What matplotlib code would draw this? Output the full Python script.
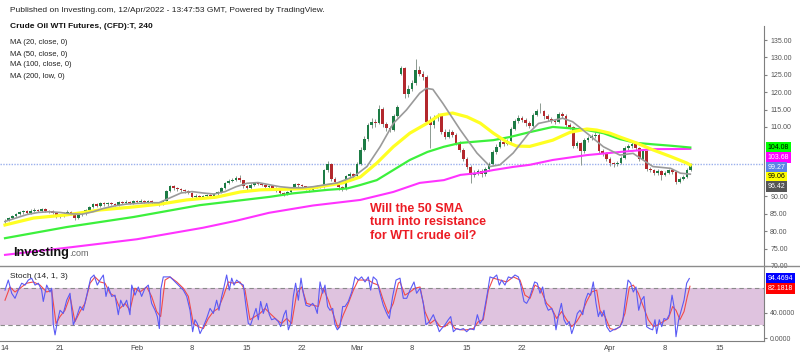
import numpy as np
import matplotlib
matplotlib.use("Agg")
import matplotlib.pyplot as plt
from matplotlib.lines import Line2D
from matplotlib.transforms import blended_transform_factory

plt.rcParams["font.family"] = ["Liberation Sans", "DejaVu Sans"]

# 8-hour candles, 3 per trading day; trading day 0 = Fri 14 Jan 2022
opens = [82.6, 83.0, 83.9, 84.4, 84.9, 85.4, 85.7, 85.2, 85.9, 86.1, 85.8, 86.3,
         85.9, 85.7, 85.3, 84.3, 84.4, 85.1, 85.6, 85.0, 83.8, 84.6, 85.0, 86.2,
         87.0, 87.7, 87.4, 88.0, 87.7, 88.1, 87.9, 87.6, 88.3, 88.0, 88.5, 88.2,
         88.6, 88.3, 88.8, 88.4, 88.7, 88.2, 87.9, 87.7, 88.8, 91.6, 92.9, 92.4,
         92.1, 91.8, 91.5, 91.0, 89.8, 90.2, 89.9, 90.1, 90.3, 90.0, 90.6, 91.3,
         92.4, 93.8, 94.5, 94.8, 95.3, 94.6, 92.9, 92.5, 93.4, 93.9, 93.6, 93.3,
         92.8, 93.0, 92.4, 91.8, 91.0, 90.6, 91.2, 92.4, 93.5, 93.2, 92.9, 92.2,
         91.9, 92.6, 93.0, 92.7, 97.5, 99.3, 95.0, 94.2, 92.6, 92.3, 95.8, 96.4,
         95.9, 99.4, 103.5, 106.5, 110.5, 111.5, 111.0, 115.3, 110.8, 109.6, 109.2, 113.2,
         125.3, 127.0, 119.5, 121.0, 122.5, 126.5, 125.3, 124.3, 111.5, 110.5, 112.6, 113.0,
         108.5, 107.2, 108.6, 107.8, 105.5, 103.5, 100.8, 98.5, 96.3, 96.8, 97.2, 96.5,
         97.8, 99.3, 102.8, 104.3, 105.8, 105.2, 105.9, 109.5, 111.7, 112.6, 112.0, 111.0,
         110.2, 113.5, 114.6, 114.5, 113.0, 112.3, 111.8, 111.3, 113.6, 113.2, 110.6, 110.0,
         104.5, 105.3, 103.0, 106.3, 106.7, 107.3, 107.8, 103.0, 102.2, 100.8, 99.5, 99.2,
         99.6, 101.0, 103.8, 104.5, 105.2, 104.0, 100.8, 103.2, 98.0, 97.5, 96.8, 97.2,
         96.3, 96.8, 97.5, 96.9, 94.3, 95.0, 95.6, 97.6]
highs = [83.4, 84.2, 84.8, 85.3, 85.8, 86.2, 86.0, 86.3, 86.6, 86.4, 86.7, 86.6,
         86.2, 86.0, 85.5, 84.8, 85.4, 86.0, 85.8, 85.2, 84.9, 85.4, 86.5, 87.4,
         88.1, 88.0, 88.4, 88.3, 88.5, 88.4, 88.2, 88.7, 88.6, 88.9, 88.7, 89.0,
         88.9, 89.3, 89.0, 89.1, 88.9, 88.4, 88.1, 89.1, 91.9, 93.3, 93.2, 92.7,
         92.4, 92.1, 91.8, 91.2, 90.6, 90.5, 90.5, 90.7, 90.6, 91.0, 91.7, 92.8,
         94.1, 94.9, 95.3, 95.8, 96.3, 94.8, 93.2, 93.8, 94.3, 94.2, 93.9, 93.6,
         93.4, 93.2, 92.7, 92.0, 91.3, 91.6, 92.8, 93.9, 93.8, 93.5, 93.1, 92.5,
         93.0, 93.4, 93.3, 98.0, 100.2, 99.6, 95.6, 94.5, 93.1, 96.3, 97.0, 96.8,
         99.9, 104.2, 107.3, 111.2, 112.6, 112.4, 116.2, 115.8, 111.5, 110.3, 113.8, 116.3,
         127.6, 127.3, 122.0, 123.6, 129.5, 127.4, 126.0, 124.8, 113.0, 113.4, 114.0, 113.4,
         109.3, 109.5, 109.2, 108.2, 106.0, 104.0, 101.3, 99.0, 97.6, 98.0, 97.8, 98.4,
         99.9, 103.5, 105.0, 106.5, 106.4, 106.6, 110.1, 112.4, 113.3, 113.1, 112.5, 111.6,
         114.0, 115.3, 116.9, 115.0, 113.6, 112.8, 112.3, 114.2, 114.3, 113.6, 111.2, 110.3,
         106.0, 105.8, 106.9, 107.3, 107.9, 108.6, 108.2, 103.6, 102.7, 101.3, 100.0, 100.2,
         101.6, 104.4, 105.1, 105.9, 105.6, 104.3, 103.7, 103.5, 98.6, 98.0, 97.8, 97.6,
         97.4, 98.0, 97.9, 97.1, 95.6, 96.2, 98.1, 99.6]
lows = [82.2, 82.8, 83.6, 84.1, 84.6, 85.1, 84.9, 85.0, 85.6, 85.4, 85.5, 85.6,
        85.3, 85.0, 83.9, 83.8, 84.1, 84.8, 84.7, 83.3, 83.5, 84.3, 84.8, 86.0,
        86.8, 87.0, 87.1, 87.3, 87.4, 87.5, 87.2, 87.4, 87.7, 87.8, 87.9, 87.9,
        88.0, 88.1, 88.1, 88.1, 87.9, 87.5, 87.3, 87.5, 88.6, 91.3, 92.0, 91.7,
        91.4, 91.1, 90.6, 89.4, 89.5, 89.5, 89.6, 89.8, 89.6, 89.7, 90.3, 91.0,
        92.2, 93.5, 94.1, 94.5, 94.3, 92.5, 92.0, 92.2, 93.1, 93.2, 92.9, 92.4,
        92.5, 92.0, 91.4, 90.6, 90.2, 90.3, 91.0, 92.2, 92.8, 92.5, 91.8, 91.4,
        91.6, 92.3, 92.3, 92.5, 97.0, 94.5, 93.7, 92.0, 91.7, 92.0, 95.3, 95.4,
        95.6, 99.0, 103.0, 106.0, 109.8, 110.0, 110.7, 110.0, 108.8, 108.4, 108.9, 112.8,
        124.8, 118.4, 118.6, 120.3, 122.0, 124.6, 123.5, 110.8, 104.0, 109.8, 111.8, 107.9,
        106.4, 106.8, 107.0, 104.8, 102.8, 100.1, 97.8, 93.9, 95.6, 96.2, 95.7, 96.0,
        97.3, 99.0, 102.2, 103.8, 104.6, 104.7, 105.5, 109.0, 111.0, 111.3, 110.3, 109.6,
        109.9, 113.0, 113.9, 112.4, 111.7, 111.2, 110.7, 111.0, 112.6, 110.0, 109.4, 103.8,
        103.9, 99.0, 102.6, 105.8, 106.2, 106.9, 102.4, 101.5, 100.2, 98.9, 98.6, 98.9,
        99.3, 100.7, 103.3, 104.0, 103.4, 100.2, 100.5, 97.4, 96.9, 96.2, 96.3, 94.7,
        95.8, 96.4, 96.4, 93.5, 93.9, 94.6, 95.3, 97.3]
closes = [83.0, 83.9, 84.4, 84.9, 85.4, 85.7, 85.2, 85.9, 86.1, 85.8, 86.3, 85.9,
          85.7, 85.3, 84.3, 84.4, 85.1, 85.6, 85.0, 83.8, 84.6, 85.0, 86.2, 87.0,
          87.7, 87.4, 88.0, 87.7, 88.1, 87.9, 87.6, 88.3, 88.0, 88.5, 88.2, 88.6,
          88.3, 88.8, 88.4, 88.7, 88.2, 87.9, 87.7, 88.8, 91.6, 92.9, 92.4, 92.1,
          91.8, 91.5, 91.0, 89.8, 90.2, 89.9, 90.1, 90.3, 90.0, 90.6, 91.3, 92.4,
          93.8, 94.5, 94.8, 95.3, 94.6, 92.9, 92.5, 93.4, 93.9, 93.6, 93.3, 92.8,
          93.0, 92.4, 91.8, 91.0, 90.6, 91.2, 92.4, 93.5, 93.2, 92.9, 92.2, 91.9,
          92.6, 93.0, 92.7, 97.5, 99.3, 95.0, 94.2, 92.6, 92.3, 95.8, 96.4, 95.9,
          99.4, 103.5, 106.5, 110.5, 111.5, 111.0, 115.3, 110.8, 109.6, 109.2, 113.2, 115.6,
          127.0, 119.5, 121.0, 122.5, 126.5, 125.3, 124.3, 111.5, 110.5, 112.6, 113.0, 108.5,
          107.2, 108.6, 107.8, 105.5, 103.5, 100.8, 98.5, 96.3, 96.8, 97.2, 96.5, 97.8,
          99.3, 102.8, 104.3, 105.8, 105.2, 105.9, 109.5, 111.7, 112.6, 112.0, 111.0, 110.2,
          113.5, 114.6, 114.5, 113.0, 112.3, 111.8, 111.3, 113.6, 113.2, 110.6, 110.0, 104.5,
          105.3, 103.0, 106.3, 106.7, 107.3, 107.8, 103.0, 102.2, 100.8, 99.5, 99.2, 99.6,
          101.0, 103.8, 104.5, 105.2, 104.0, 100.8, 103.2, 98.0, 97.5, 96.8, 97.2, 96.3,
          96.8, 97.5, 96.9, 94.3, 95.0, 95.6, 97.6, 99.27]

# moving averages (trading day, price)
ma20_day = [0, 1, 2, 3, 4, 5, 6, 7, 8, 9, 10, 11, 12, 13, 14, 15, 16, 17, 18, 19,
            20, 21, 22, 23, 24, 25, 26, 27, 28, 29, 30.2, 31.7, 32.9, 34.1, 35.3, 36.5,
            37.7, 38.3, 38.9, 39.8, 41.4, 42.9, 44.1, 45.0, 46.2, 47.7, 48.5, 50.7, 51.6,
            52.9, 54.4, 55.9, 57.1, 58.0, 58.9, 60.5, 61.4, 62.3]
ma20 = [82.8, 83.8, 84.8, 85.4, 85.6, 85.4, 85.0, 84.9, 85.6, 86.6, 87.3, 87.8, 88.0,
        88.2, 88.2, 89.6, 91.0, 91.4, 91.0, 90.7, 91.4, 92.8, 93.8, 94.0, 93.4, 92.8,
        92.5, 92.5, 92.8, 93.3, 93.9, 95.7, 98.6, 104.3, 111.0, 114.9, 119.7, 121.1,
        120.8, 116.8, 109.1, 102.5, 98.6, 99.1, 102.5, 108.5, 111.0, 112.5, 111.5,
        108.2, 104.3, 101.9, 102.4, 100.5, 98.6, 98.1, 96.7, 96.42]
ma50_day = [0, 2.6, 5.6, 8.6, 11.7, 14.1, 16.5, 19.2, 21.4, 23.2, 25.5, 27.7, 30.7,
            32.3, 33.8, 35.3, 36.8, 38.4, 39.5, 40.7, 42.0, 43.2, 44.4, 45.6, 46.5,
            47.7, 49.8, 51.4, 52.9, 53.8, 55.0, 55.9, 57.4, 58.9, 60.5, 62.0, 62.3]
ma50 = [81.8, 83.8, 84.7, 86.1, 87.0, 87.8, 89.0, 89.8, 91.3, 91.9, 92.1, 92.3, 93.9,
        95.6, 99.6, 104.3, 108.2, 111.1, 113.4, 114.0, 112.9, 111.1, 108.2, 105.7,
        104.5, 104.4, 106.2, 108.5, 109.4, 109.1, 108.2, 107.1, 105.4, 103.4, 101.5,
        99.6, 99.06]
ma100_day = [0, 5.6, 11.7, 17.7, 24.1, 26.2, 29.3, 31.1, 32.3, 33.8, 35.3, 36.8, 38.4,
             39.9, 41.4, 42.9, 44.4, 45.9, 47.7, 49.8, 51.4, 52.9, 54.4, 55.9, 57.4,
             58.9, 60.5, 62.3]
ma100 = [78.0, 81.2, 84.1, 87.5, 89.9, 90.9, 91.9, 92.3, 93.3, 94.7, 97.6, 100.5, 102.8,
         104.3, 105.4, 105.8, 106.2, 107.1, 108.5, 110.0, 109.6, 109.1, 108.2, 106.5,
         105.4, 105.0, 104.6, 104.08]
ma200_day = [0, 6, 12, 18, 21, 24, 28, 32.3, 35.3, 37.7, 39.9, 41.4, 42.9, 44.4, 46.2,
             47.7, 49.8, 52.9, 55.9, 58.9, 62.3]
ma200 = [73.2, 75.4, 77.7, 81.0, 83.0, 85.3, 87.4, 89.0, 91.3, 93.9, 94.7, 96.2, 96.7,
         97.6, 98.5, 99.1, 100.5, 101.9, 102.8, 103.6, 103.68]

# stochastic (14, 1, 3): %K and %D
stoch_k_day = [0.00, 0.30, 0.61, 0.91, 1.21, 1.52, 1.82, 2.12, 2.42, 2.73,
               3.03, 3.33, 3.48, 3.79, 4.09, 4.24, 4.39, 4.55, 4.76, 5.00,
               5.30, 5.61, 5.91, 6.21, 6.52, 6.82, 7.12, 7.48, 7.79, 8.09,
               8.39, 8.64, 8.94, 9.18, 9.39, 9.70, 10.00, 10.30, 10.52, 10.76,
               11.06, 11.36, 11.52, 11.82, 12.12, 12.42, 12.73, 13.03, 13.33, 13.64,
               13.85, 14.03, 14.15, 14.39, 14.70, 15.00, 15.30, 15.76, 16.21, 16.52,
               16.82, 17.06, 17.27, 17.48, 17.73, 18.03, 18.33, 18.64, 18.94, 19.24,
               19.45, 19.70, 19.91, 20.15, 20.39, 20.61, 20.82, 21.06, 21.36, 21.67,
               21.91, 22.12, 22.33, 22.58, 22.82, 23.03, 23.24, 23.48, 23.79, 24.03,
               24.24, 24.55, 24.85, 25.06, 25.36, 25.55, 25.76, 25.97, 26.21, 26.42,
               26.67, 26.91, 27.12, 27.36, 27.67, 27.97, 28.18, 28.39, 28.64, 28.88,
               29.09, 29.33, 29.55, 29.79, 30.00, 30.21, 30.45, 30.70, 30.91, 31.21,
               31.52, 31.82, 32.12, 32.42, 32.73, 33.03, 33.24, 33.48, 33.79, 34.09,
               34.39, 34.70, 34.94, 35.24, 35.55, 35.91,
               36.21, 36.52, 36.82, 37.18, 37.42, 37.73, 38.03, 38.27, 38.58, 38.94,
               39.24, 39.48, 39.70, 40.00, 40.30, 40.52, 40.76, 41.06, 41.36, 41.67,
               41.97, 42.27, 42.64, 42.94, 43.18, 43.42, 43.64, 43.85, 44.09, 44.39,
               44.70, 44.94, 45.15, 45.45, 45.76, 46.06, 46.36, 46.67, 46.88, 47.18,
               47.42, 47.67, 47.91, 48.15, 48.39, 48.64, 48.88, 49.12, 49.39, 49.70,
               49.91, 50.09, 50.33, 50.58, 50.82, 51.06, 51.30, 51.52, 51.73, 52.03,
               52.27, 52.52, 52.76, 53.00, 53.24, 53.48, 53.73, 53.94, 54.09, 54.27,
               54.45, 54.70, 55.00, 55.30, 55.61, 55.91, 56.15, 56.39, 56.64, 56.88,
               57.12, 57.36, 57.61, 57.85, 58.09, 58.33, 58.58, 58.88, 59.09, 59.24,
               59.48, 59.70, 59.91, 60.15, 60.39, 60.64, 60.82, 61.00, 61.24, 61.52,
               61.73, 61.97, 62.21]
stoch_k = [76, 92, 71, 63, 76, 87, 84, 92, 95, 84,
           87, 76, 58, 84, 73, 79, 21, 5, 26, 44,
           39, 60, 71, 21, 34, 50, 44, 71, 95, 100,
           84, 92, 100, 66, 81, 66, 68, 37, 60, 50,
           60, 37, 84, 68, 81, 66, 79, 84, 55, 44,
           34, 15, 76, 97, 97, 97, 92, 84, 76, 66,
           44, 10, 29, 23, 7, 18, 31, 47, 39, 60,
           44, 66, 81, 100, 76, 95, 84, 92, 87, 84,
           50, 23, 21, 34, 47, 29, 58, 39, 55, 37,
           29, 31, 26, 18, 37, 44, 13, 23, 66, 87,
           60, 95, 71, 52, 50, 55, 50, 39, 89, 71,
           84, 50, 44, 47, 21, 13, 18, 50, 50, 58,
           73, 97, 92, 97, 89, 97, 76, 97, 92, 71,
           52, 39, 31, 66, 92, 95,
           63, 63, 76, 89, 71, 79, 55, 21, 26, 37,
           23, 10, 15, 21, 29, 34, 10, 15, 13, 15,
           10, 15, 13, 37, 23, 29, 50, 71, 97, 95,
           100, 84, 92, 84, 97, 95, 100, 97, 84, 58,
           55, 63, 76, 89, 87, 71, 81, 55, 44, 47,
           37, 13, 37, 55, 29, 21, 26, 7, 18, 39,
           44, 37, 60, 71, 68, 89, 55, 34, 42, 34,
           44, 18, 10, 13, 15, 18, 26, 60, 92, 87,
           73, 81, 44, 60, 66, 18, 15, 13, 29, 7,
           29, 18, 31, 29, 37, 68, 50, 2, 29, 47,
           60, 87, 94.4694]
stoch_d_day = [0.00, 0.45, 0.91, 1.36, 1.97, 2.58, 3.18, 3.79, 4.24, 4.64,
               5.00, 5.45, 5.91, 6.36, 6.82, 7.27, 7.73, 8.18, 8.64, 9.09,
               9.55, 10.00, 10.45, 10.91, 11.36, 11.82, 12.27, 12.88, 13.33, 13.79,
               14.15, 14.55, 15.00, 15.61, 16.21, 16.67, 17.12, 17.58, 18.03, 18.48,
               18.94, 19.39, 19.85, 20.30, 20.76, 21.36, 21.82, 22.27, 22.73, 23.18,
               23.64, 24.09, 24.70, 25.15, 25.61, 26.06, 26.52, 26.97, 27.42, 28.03,
               28.48, 28.94, 29.39, 29.85, 30.30, 30.76, 31.21, 31.67, 32.12, 32.58,
               33.03, 33.48, 33.94, 34.39, 34.85, 35.30, 35.76, 35.91, 36.36, 36.82,
               37.27, 37.73, 38.18, 38.64, 39.09, 39.55, 40.00, 40.45, 40.91, 41.52,
               41.97, 42.58, 43.03, 43.48, 43.94, 44.39, 45.00, 45.61, 46.21, 46.82,
               47.27, 47.73, 48.18, 48.64, 49.24, 49.70, 50.15, 50.61, 51.06, 51.52,
               51.97, 52.42, 52.88, 53.33, 53.79, 54.09, 54.55, 55.00, 55.45, 55.91,
               56.36, 56.76, 57.12, 57.58, 58.03, 58.48, 58.94, 59.39, 59.85, 60.30,
               60.70, 61.00, 61.36, 61.73, 62.03, 62.27]
stoch_d = [60, 81, 73, 79, 87, 89, 84, 73, 76, 23,
           34, 44, 66, 26, 42, 55, 87, 97, 89, 87,
           71, 66, 47, 55, 44, 79, 73, 81, 66, 42,
           34, 92, 97, 89, 79, 66, 23, 18, 15, 31,
           42, 47, 66, 89, 87, 89, 76, 29, 34, 39,
           47, 39, 29, 23, 31, 23, 71, 81, 55, 52,
           50, 79, 60, 37, 15, 37, 55, 76, 92, 92,
           92, 87, 84, 60, 39, 55, 87, 89, 68, 73,
           79, 81, 42, 23, 29, 18, 18, 26, 15, 13,
           13, 15, 26, 29, 76, 95, 92, 89, 97, 92,
           68, 63, 84, 79, 55, 47, 31, 42, 29, 18,
           26, 39, 58, 73, 76, 44, 34, 15, 13, 18,
           39, 81, 84, 71, 50, 29, 18, 21, 26, 31,
           50, 44, 29, 42, 66, 82.1818]

tick_days = [0, 5, 12, 17, 22, 27, 32, 37, 42, 47, 55, 60, 65]
tick_labels = ["14", "21", "Feb", "8", "15", "22", "Mar", "8", "15", "22", "Apr", "8", "15"]

W, H = 800, 357
GREEN, RED, WICK = "#1d7c45", "#b3282d", "#8c9990"
AXIS = "#7f7f7f"


def fx(px):
    return px / W


def fy(py):
    return 1 - py / H


fig = plt.figure(figsize=(W / 100, H / 100), dpi=100)
fig.patch.set_facecolor("white")

# price pane
ax = fig.add_axes([0, fy(266), fx(764), fy(26) - fy(266)])
ax.set_xlim(-0.4545, 69.0)
ax.set_ylim(70, 139.03)

o, h, l, c = (np.array(v) for v in (opens, highs, lows, closes))
t = np.arange(len(c)) / 3
col = np.where(c >= o, GREEN, RED)
ax.vlines(t, l, h, colors=WICK, linewidth=0.7, zorder=2)
ax.bar(t, np.maximum(np.abs(c - o), 0.15), bottom=np.minimum(o, c), width=0.22,
       color=col, linewidth=0, zorder=2)

ax.axhline(c[-1], color="#9bb0ec", lw=1, ls=(0, (1, 1)), zorder=1)
ax.plot(ma200_day, ma200, color="#ff33ff", lw=1.5, zorder=3)
ax.plot(ma100_day, ma100, color="#3cf03c", lw=1.6, zorder=3)
ax.plot(ma50_day, ma50, color="#ffff22", lw=2.3, zorder=3)
ax.plot(ma20_day, ma20, color="#9a9a9a", lw=1.2, zorder=4)

for s in ("top", "left", "bottom"):
    ax.spines[s].set_visible(False)
ax.spines["right"].set_color(AXIS)
ax.set_xticks([])
ax.yaxis.tick_right()
price_ticks = [70, 75, 80, 85, 90, 110, 115, 120, 125, 130, 135]
ax.set_yticks(price_ticks)
ax.set_yticklabels([f"{v:.2f}" for v in price_ticks])
ax.tick_params(axis="y", labelsize=5, colors=AXIS, labelcolor="#555555", length=2.5, pad=2)

# last-value tags on the price scale, stacked so they do not overlap
tr = blended_transform_factory(ax.transAxes, ax.transData)
tags = [(ma100[-1], "#00ff00", "black"), (ma200[-1], "#ff00ff", "white"),
        (closes[-1], "#5b84e6", "white"), (ma50[-1], "#ffff00", "black"),
        (ma20[-1], "#555555", "white")]
gap = 2.82
prev = None
for val, bg, fg in tags:
    y = val if prev is None else min(val, prev - gap)
    prev = y
    ax.annotate(f"{val:.2f}", (1.0, y), xycoords=tr, xytext=(2.5, 0), textcoords="offset points",
                ha="left", va="center", fontsize=5, color=fg, annotation_clip=False,
                bbox=dict(boxstyle="square,pad=0.25", fc=bg, ec="none"))

# stochastic pane
ax2 = fig.add_axes([0, fy(341), fx(764), fy(266) - fy(341)])
ax2.set_xlim(-0.4545, 69.0)
ax2.set_ylim(-4.76, 114.3)
ax2.axhspan(20, 80, color="#dfc3df", lw=0, zorder=0)
ax2.axhline(20, color="#8a8a8a", lw=0.8, ls=(0, (4, 3)), zorder=1)
ax2.axhline(80, color="#8a8a8a", lw=0.8, ls=(0, (4, 3)), zorder=1)
ax2.plot(stoch_k_day, stoch_k, color="#5a5af5", lw=0.8, zorder=3)
ax2.plot(stoch_d_day, stoch_d, color="#f24a4a", lw=0.8, zorder=2)
for s in ("top", "left"):
    ax2.spines[s].set_visible(False)
ax2.spines["right"].set_color(AXIS)
ax2.spines["bottom"].set_color(AXIS)
ax2.yaxis.tick_right()
ax2.set_yticks([0, 40])
ax2.set_yticklabels(["0.0000", "40.0000"])
ax2.tick_params(axis="y", labelsize=5, colors=AXIS, labelcolor="#555555", length=2.5, pad=2)
ax2.set_xticks(tick_days)
ax2.set_xticklabels(tick_labels)
ax2.tick_params(axis="x", labelsize=5.5, labelcolor="#444444", length=0, pad=3)

tr2 = blended_transform_factory(ax2.transAxes, ax2.transData)
ky = stoch_k[-1]
dy = min(stoch_d[-1], ky - 15.9)
for val, y, bg in ((stoch_k[-1], ky, "#0000ff"), (stoch_d[-1], dy, "#ff0000")):
    ax2.annotate(f"{val:.4f}", (1.0, y), xycoords=tr2, xytext=(2.5, 0), textcoords="offset points",
                 ha="left", va="center", fontsize=5, color="white", annotation_clip=False,
                 bbox=dict(boxstyle="square,pad=0.25", fc=bg, ec="none"))

fig.add_artist(Line2D([0, 1], [fy(266), fy(266)], color="#8c8c8c", lw=1))

# header texts
fig.text(fx(10), fy(11), "Published on Investing.com, 12/Apr/2022 - 13:47:53 GMT, Powered by TradingView.",
         fontsize=6, color="#222222", va="center")
fig.text(fx(10), fy(26), "Crude Oil WTI Futures, (CFD):T, 240", fontsize=6,
         weight="bold", color="#111111", va="center")
for k, s in enumerate(["MA (20, close, 0)", "MA (50, close, 0)", "MA (100, close, 0)", "MA (200, low, 0)"]):
    fig.text(fx(10), fy(43 + 11 * k), s, fontsize=5.5, color="#222222", va="center")
fig.text(fx(10), fy(277), "Stoch (14, 1, 3)", fontsize=6, color="#222222", va="center")

fig.text(fx(13), fy(253), "Investing", fontsize=9.2, weight="bold", color="#111111", va="center")
fig.text(fx(69), fy(254), ".com", fontsize=6.5, color="#666666", va="center")

fig.text(fx(370), fy(203), "Will the 50 SMA\nturn into resistance\nfor WTI crude oil?",
         fontsize=9, weight="bold", color="#ec1c24", va="top", ha="left", linespacing=1.15)

fig.savefig("out.png", dpi=100, facecolor="white")
